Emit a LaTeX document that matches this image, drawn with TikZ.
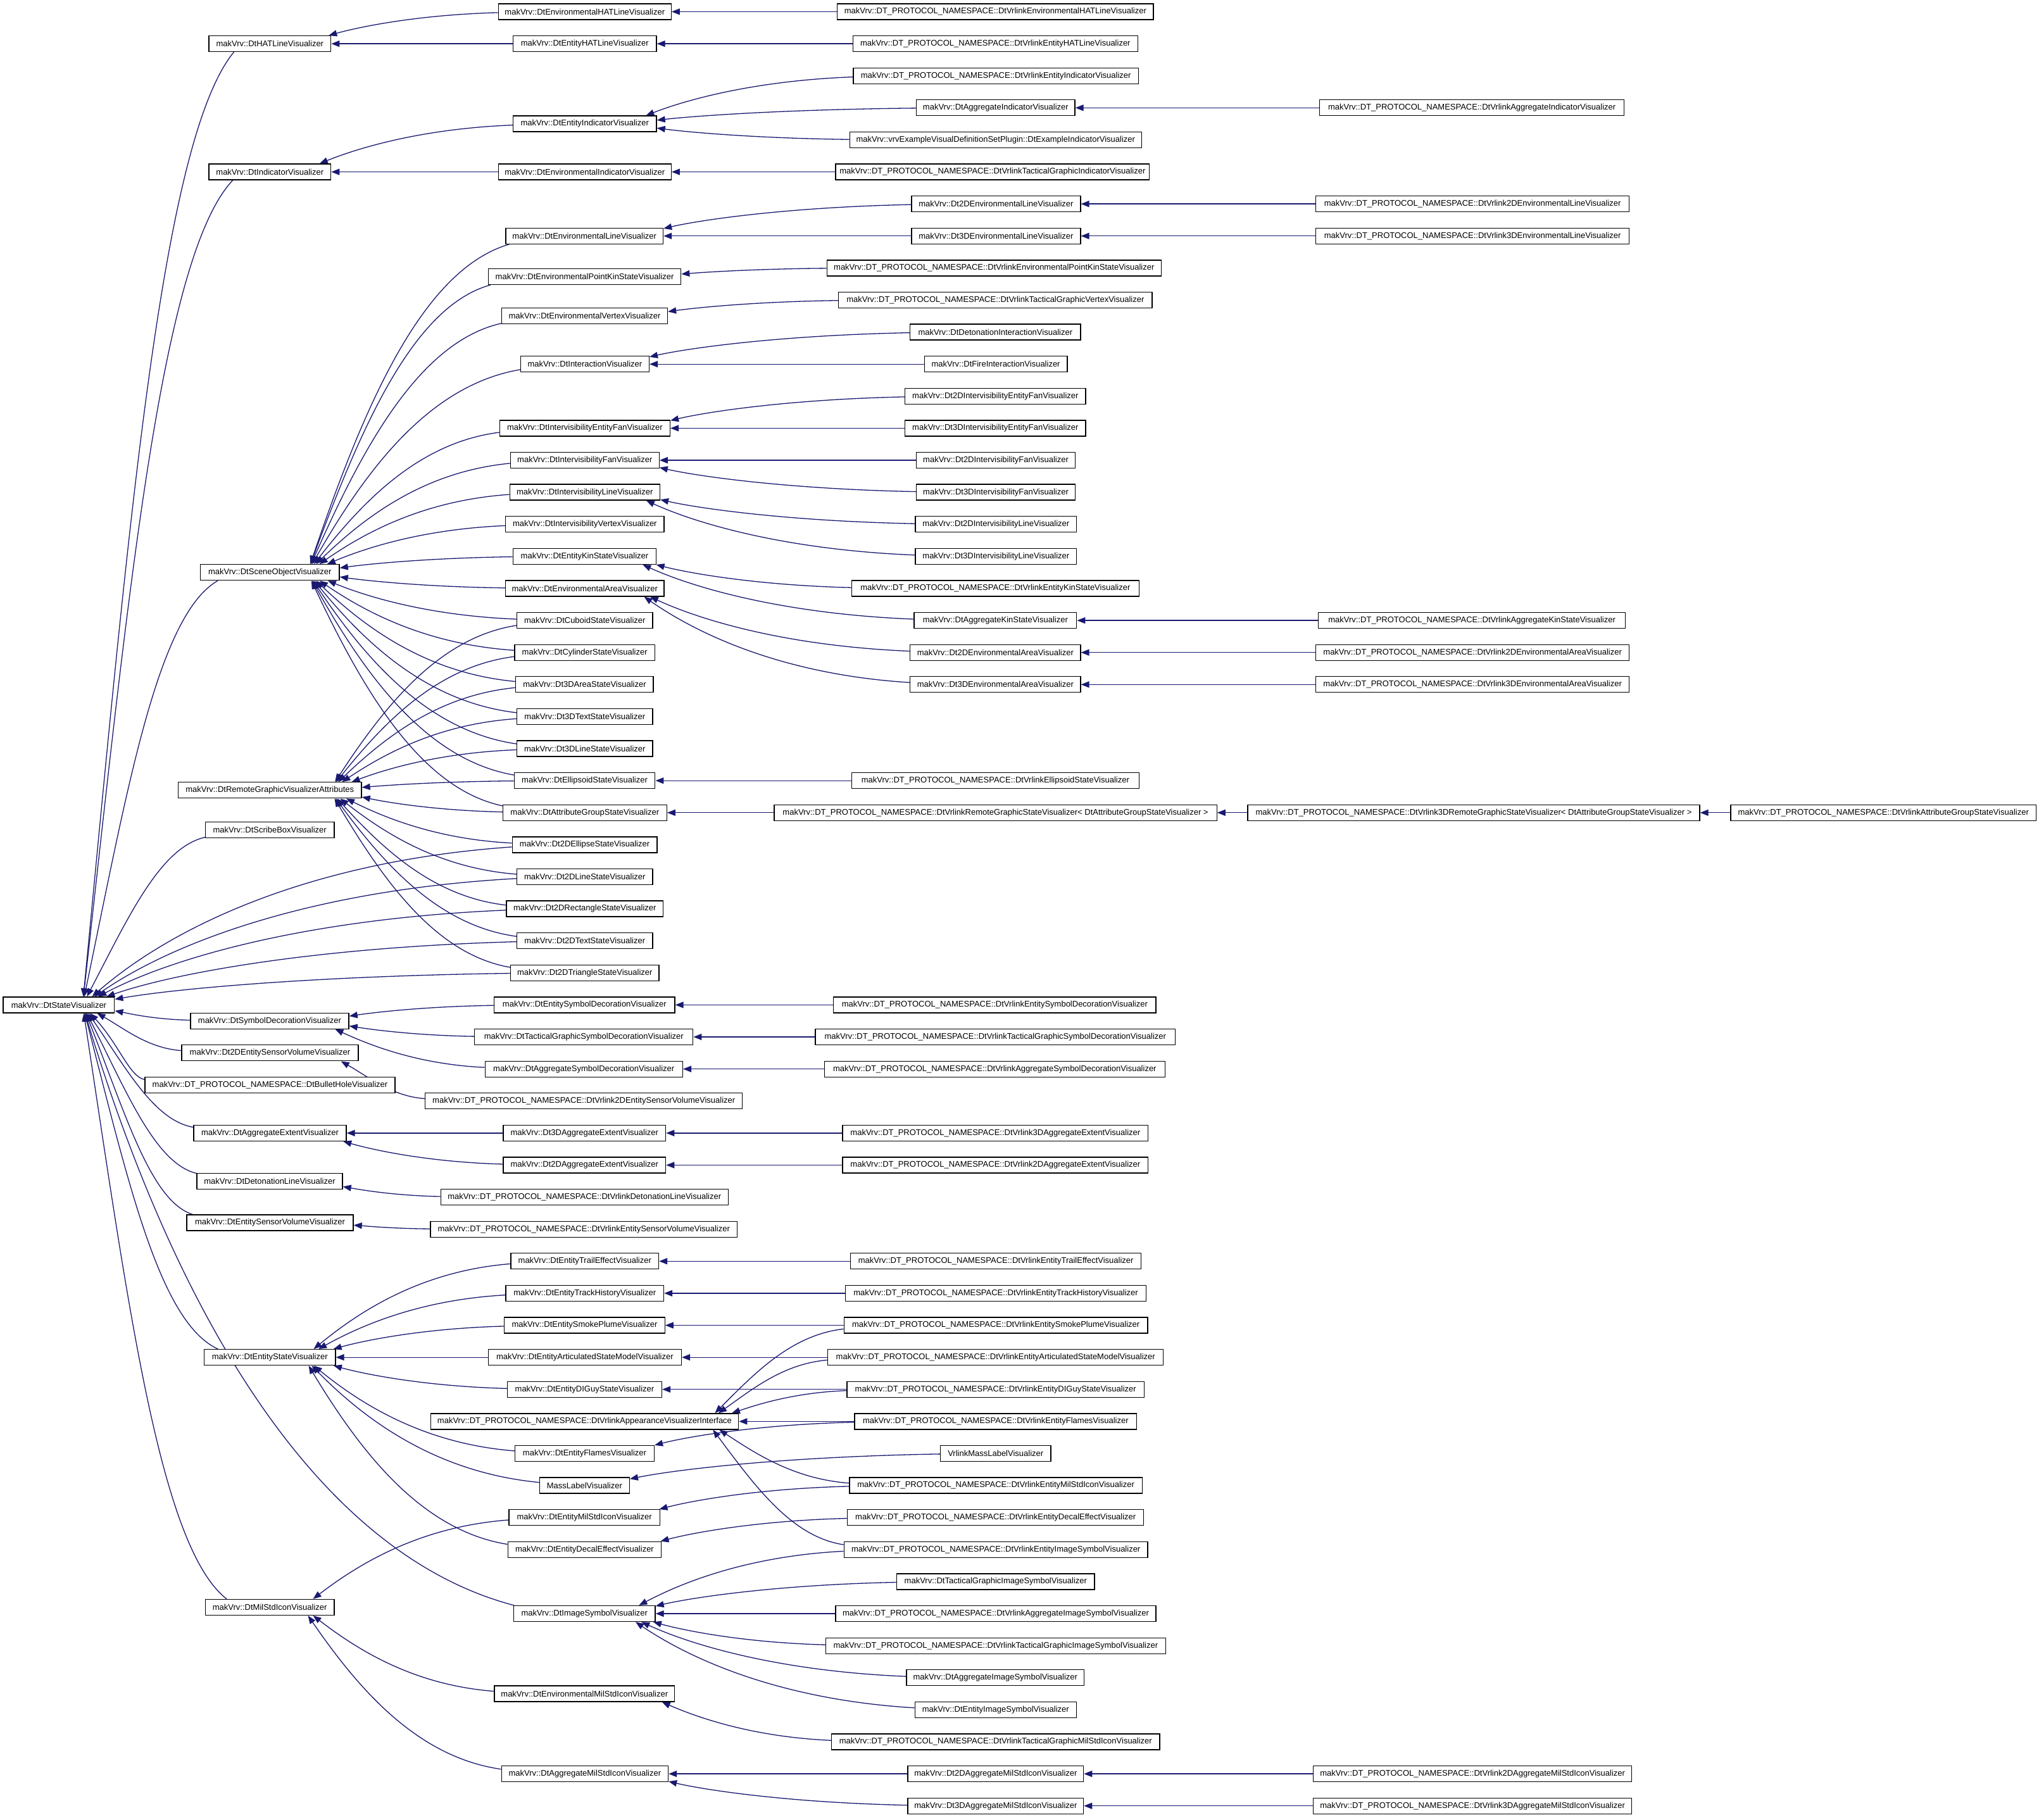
\documentclass[tikz,border=0pt]{standalone}
\usepackage{fontspec}
\setmainfont{Liberation Sans}
\usetikzlibrary{calc,arrows.meta}
\definecolor{edgeblue}{RGB}{25,25,112}
\pgfdeclarelayer{bg}
\pgfsetlayers{bg,main}
\newcommand\mkv{makVrv::}
\newcommand\mkvp{makVrv::DT\_PROTOCOL\_NAMESPACE::}
\newcommand\cls[5]{%
  \pgfmathsetmacro\clsw{(#3-#2)*2.054}%
  \pgfmathsetmacro\clsx{(#2+#3)/2}%
  \pgfmathsetmacro\clsy{9+24.64*#4}%
  \node[clsbox,minimum width=\clsw pt] (#1) at (\clsx,\clsy) {#5};}
\newcommand\inh[2]{%
  \draw[inhedge] let
    \p1=(#2.west), \p2=(#1.east), \p3=(#2.center), \p4=(#1.center),
    \n1={min(\x3-\x1,51pt)}, \n2={min(\x2-\x4,51pt)},
    \p5=({\x1+\n1},\y3), \p6=({\x2-\n2},\y4),
    \p7=({\x1-0.5*(\x1-\x2)},{\y1-0.1*(\y1-\y2)}),
    \p8=({\x2+0.15*(\x1-\x2)},{\y2+0.5*(\y1-\y2)}),
    \n3={min(\n1/max(abs(\x7-\x5),0.01pt),13.1pt/max(abs(\y7-\y5),0.01pt))},
    \n4={min(\n2/max(abs(\x8-\x6),0.01pt),13.1pt/max(abs(\y8-\y6),0.01pt))}
  in ({\x5+\n3*(\x7-\x5)},{\y5+\n3*(\y7-\y5)}) .. controls (\p7) and (\p8) .. ({\x6+\n4*(\x8-\x6)},{\y6+\n4*(\y8-\y6)});}
\tikzset{
  clsbox/.style={draw=black,line width=1.3pt,fill=white,minimum height=25pt,inner sep=0pt,
    font=\fontsize{13pt}{15pt}\selectfont},
  inhedge/.style={draw=edgeblue,line width=1.3pt,-{Triangle[length=13pt,width=10pt]}}
}
\begin{document}
\begin{tikzpicture}[x=2.054pt,y=-2.054pt]
\useasboundingbox (0,0) rectangle (1568.16,1399.7);
% level 0
\cls{root}{2.5}{88}{31}{\mkv DtStateVisualizer}
% level 1
\cls{hat}{160.6}{254.5}{1}{\mkv DtHATLineVisualizer}
\cls{ind}{160.6}{254.5}{5}{\mkv DtIndicatorVisualizer}
\cls{scene}{154}{261}{17.5}{\mkv DtSceneObjectVisualizer}
\cls{remote}{137}{278}{24.3}{\mkv DtRemoteGraphicVisualizerAttributes}
\cls{scribe}{158}{257}{25.54}{\mkv DtScribeBoxVisualizer}
\cls{symdec}{146.5}{268.3}{31.5}{\mkv DtSymbolDecorationVisualizer}
\cls{sens2d}{139.7}{275.6}{32.5}{\mkv Dt2DEntitySensorVolumeVisualizer}
\cls{bullet}{111.5}{303.8}{33.5}{\mkvp DtBulletHoleVisualizer}
\cls{aggext}{149}{266.3}{35}{\mkv DtAggregateExtentVisualizer}
\cls{detline}{151.4}{263.4}{36.5}{\mkv DtDetonationLineVisualizer}
\cls{enssv}{143.6}{271.7}{37.8}{\mkv DtEntitySensorVolumeVisualizer}
\cls{entstate}{157}{258}{42}{\mkv DtEntityStateVisualizer}
\cls{milstd}{158}{257}{49.8}{\mkv DtMilStdIconVisualizer}
% level 2
\cls{envhat}{383.3}{516.2}{0}{\mkv DtEnvironmentalHATLineVisualizer}
\cls{enthat}{394.6}{504.9}{1}{\mkv DtEntityHATLineVisualizer}
\cls{entind}{394.6}{504.9}{3.5}{\mkv DtEntityIndicatorVisualizer}
\cls{envind}{383.3}{516.2}{5}{\mkv DtEnvironmentalIndicatorVisualizer}
\cls{envline}{389}{510}{7}{\mkv DtEnvironmentalLineVisualizer}
\cls{envpks}{375.6}{523.7}{8.27}{\mkv DtEnvironmentalPointKinStateVisualizer}
\cls{envvert}{385.8}{513.4}{9.5}{\mkv DtEnvironmentalVertexVisualizer}
\cls{inter}{400.4}{499.2}{11}{\mkv DtInteractionVisualizer}
\cls{ivef}{384.3}{515.3}{13}{\mkv DtIntervisibilityEntityFanVisualizer}
\cls{ivfan}{392.6}{506.9}{14}{\mkv DtIntervisibilityFanVisualizer}
\cls{ivline}{392}{507.5}{15}{\mkv DtIntervisibilityLineVisualizer}
\cls{ivvert}{388.8}{510.7}{16}{\mkv DtIntervisibilityVertexVisualizer}
\cls{entkin}{394.5}{504.7}{17}{\mkv DtEntityKinStateVisualizer}
\cls{envarea}{388.8}{510.7}{18}{\mkv DtEnvironmentalAreaVisualizer}
\cls{cuboid}{397.5}{502}{19}{\mkv DtCuboidStateVisualizer}
\cls{cylinder}{395.8}{503.6}{20}{\mkv DtCylinderStateVisualizer}
\cls{area3d}{396.7}{502.5}{21}{\mkv Dt3DAreaStateVisualizer}
\cls{text3d}{397.5}{502}{22}{\mkv Dt3DTextStateVisualizer}
\cls{line3d}{397.5}{502}{23}{\mkv Dt3DLineStateVisualizer}
\cls{ellipsoid}{395.5}{503.8}{24}{\mkv DtEllipsoidStateVisualizer}
\cls{attrgrp}{386.8}{512.8}{25}{\mkv DtAttributeGroupStateVisualizer}
\cls{ellipse2d}{394}{505.3}{26}{\mkv Dt2DEllipseStateVisualizer}
\cls{line2d}{397.5}{502}{27}{\mkv Dt2DLineStateVisualizer}
\cls{rect2d}{389.5}{510}{28}{\mkv Dt2DRectangleStateVisualizer}
\cls{text2d}{397.5}{502}{29}{\mkv Dt2DTextStateVisualizer}
\cls{tri2d}{392.7}{506.8}{30}{\mkv Dt2DTriangleStateVisualizer}
\cls{entsymdec}{380}{519}{31}{\mkv DtEntitySymbolDecorationVisualizer}
\cls{tgsymdec}{365}{533}{32}{\mkv DtTacticalGraphicSymbolDecorationVisualizer}
\cls{aggsymdec}{373}{525}{33}{\mkv DtAggregateSymbolDecorationVisualizer}
\cls{vr2dsens}{327}{571}{34}{\mkvp DtVrlink2DEntitySensorVolumeVisualizer}
\cls{ext3d}{387}{512}{35}{\mkv Dt3DAggregateExtentVisualizer}
\cls{ext2d}{387}{512}{36}{\mkv Dt2DAggregateExtentVisualizer}
\cls{vrdetline}{339}{560}{37}{\mkvp DtVrlinkDetonationLineVisualizer}
\cls{vrentsens}{331}{567}{38}{\mkvp DtVrlinkEntitySensorVolumeVisualizer}
\cls{trail}{392.9}{506.6}{39}{\mkv DtEntityTrailEffectVisualizer}
\cls{track}{389}{510.5}{40}{\mkv DtEntityTrackHistoryVisualizer}
\cls{smoke}{387.9}{511.3}{41}{\mkv DtEntitySmokePlumeVisualizer}
\cls{artic}{375.5}{524.1}{42}{\mkv DtEntityArticulatedStateModelVisualizer}
\cls{diguy}{390.2}{509}{43}{\mkv DtEntityDIGuyStateVisualizer}
\cls{appif}{331.2}{568}{44}{\mkvp DtVrlinkAppearanceVisualizerInterface}
\cls{flames}{396}{503.2}{45}{\mkv DtEntityFlamesVisualizer}
\cls{masslabel}{415}{484.1}{46}{MassLabelVisualizer}
\cls{entmilstd}{391.4}{507.4}{47}{\mkv DtEntityMilStdIconVisualizer}
\cls{decal}{390.6}{508.6}{48}{\mkv DtEntityDecalEffectVisualizer}
\cls{imgsym}{395.1}{503.9}{50}{\mkv DtImageSymbolVisualizer}
\cls{envmilstd}{380.2}{518.8}{52.5}{\mkv DtEnvironmentalMilStdIconVisualizer}
\cls{aggmilstd}{385.7}{513.9}{55}{\mkv DtAggregateMilStdIconVisualizer}
% level 3
\cls{vrenvhat}{644}{887}{0}{\mkvp DtVrlinkEnvironmentalHATLineVisualizer}
\cls{vrenthat}{656}{875}{1}{\mkvp DtVrlinkEntityHATLineVisualizer}
\cls{vrentind}{656.3}{875.5}{2}{\mkvp DtVrlinkEntityIndicatorVisualizer}
\cls{agging}{704.8}{826.7}{3}{\mkv DtAggregateIndicatorVisualizer}
\cls{exampleind}{653.5}{877.9}{4}{\mkv vrvExampleVisualDefinitionSetPlugin::DtExampleIndicatorVisualizer}
\cls{vrtgind}{642.6}{884}{5}{\mkvp DtVrlinkTacticalGraphicIndicatorVisualizer}
\cls{env2dline}{701}{831}{6}{\mkv Dt2DEnvironmentalLineVisualizer}
\cls{env3dline}{701}{831}{7}{\mkv Dt3DEnvironmentalLineVisualizer}
\cls{vrenvpks}{636}{893}{8}{\mkvp DtVrlinkEnvironmentalPointKinStateVisualizer}
\cls{vrtgvert}{645}{886}{9}{\mkvp DtVrlinkTacticalGraphicVertexVisualizer}
\cls{detinter}{700}{831}{10}{\mkv DtDetonationInteractionVisualizer}
\cls{fireinter}{710.9}{820.8}{11}{\mkv DtFireInteractionVisualizer}
\cls{ivef2d}{696}{835}{12}{\mkv Dt2DIntervisibilityEntityFanVisualizer}
\cls{ivef3d}{696}{835}{13}{\mkv Dt3DIntervisibilityEntityFanVisualizer}
\cls{ivfan2d}{704.7}{827}{14}{\mkv Dt2DIntervisibilityFanVisualizer}
\cls{ivfan3d}{704.7}{827}{15}{\mkv Dt3DIntervisibilityFanVisualizer}
\cls{ivline2d}{704}{828}{16}{\mkv Dt2DIntervisibilityLineVisualizer}
\cls{ivline3d}{704}{828}{17}{\mkv Dt3DIntervisibilityLineVisualizer}
\cls{vrentkin}{655}{876}{18}{\mkvp DtVrlinkEntityKinStateVisualizer}
\cls{aggkin}{703}{828}{19}{\mkv DtAggregateKinStateVisualizer}
\cls{envarea2d}{700}{831}{20}{\mkv Dt2DEnvironmentalAreaVisualizer}
\cls{envarea3d}{700}{831}{21}{\mkv Dt3DEnvironmentalAreaVisualizer}
\cls{vrellipsoid}{655}{876}{24}{\mkvp DtVrlinkEllipsoidStateVisualizer}
\cls{vrremote}{595.4}{935.8}{25}{\mkvp DtVrlinkRemoteGraphicStateVisualizer< DtAttributeGroupStateVisualizer >}
\cls{vrentsymdec}{641}{889}{31}{\mkvp DtVrlinkEntitySymbolDecorationVisualizer}
\cls{vrtgsymdec}{627}{904}{32}{\mkvp DtVrlinkTacticalGraphicSymbolDecorationVisualizer}
\cls{vraggsymdec}{634}{896}{33}{\mkvp DtVrlinkAggregateSymbolDecorationVisualizer}
\cls{vrext3d}{648}{883}{35}{\mkvp DtVrlink3DAggregateExtentVisualizer}
\cls{vrext2d}{648}{883}{36}{\mkvp DtVrlink2DAggregateExtentVisualizer}
\cls{vrtrail}{654.1}{877.7}{39}{\mkvp DtVrlinkEntityTrailEffectVisualizer}
\cls{vrtrack}{650.2}{881.5}{40}{\mkvp DtVrlinkEntityTrackHistoryVisualizer}
\cls{vrsmoke}{649.1}{882.7}{41}{\mkvp DtVrlinkEntitySmokePlumeVisualizer}
\cls{vrartic}{636.7}{894.7}{42}{\mkvp DtVrlinkEntityArticulatedStateModelVisualizer}
\cls{vrdiguy}{651.4}{880}{43}{\mkvp DtVrlinkEntityDIGuyStateVisualizer}
\cls{vrflames}{657.3}{874.2}{44}{\mkvp DtVrlinkEntityFlamesVisualizer}
\cls{vrmass}{723.2}{808.2}{45}{VrlinkMassLabelVisualizer}
\cls{vrentmilstd}{653.4}{878.4}{46}{\mkvp DtVrlinkEntityMilStdIconVisualizer}
\cls{vrdecal}{651.8}{879.6}{47}{\mkvp DtVrlinkEntityDecalEffectVisualizer}
\cls{vrentimg}{649.1}{882.7}{48}{\mkvp DtVrlinkEntityImageSymbolVisualizer}
\cls{tgimg}{689.7}{841.8}{49}{\mkv DtTacticalGraphicImageSymbolVisualizer}
\cls{vraggimg}{642.6}{889}{50}{\mkvp DtVrlinkAggregateImageSymbolVisualizer}
\cls{vrtgimg}{635.1}{896.4}{51}{\mkvp DtVrlinkTacticalGraphicImageSymbolVisualizer}
\cls{aggimg}{697.2}{833.8}{52}{\mkv DtAggregateImageSymbolVisualizer}
\cls{entimg}{703.6}{827.9}{53}{\mkv DtEntityImageSymbolVisualizer}
\cls{vrtgmilstd}{639.6}{891.9}{54}{\mkvp DtVrlinkTacticalGraphicMilStdIconVisualizer}
\cls{agg2dmilstd}{698.2}{833.3}{55}{\mkv Dt2DAggregateMilStdIconVisualizer}
\cls{agg3dmilstd}{698.2}{833.3}{56}{\mkv Dt3DAggregateMilStdIconVisualizer}
% level 4
\cls{vragging}{1015}{1249}{3}{\mkvp DtVrlinkAggregateIndicatorVisualizer}
\cls{vr2denvline}{1012}{1253}{6}{\mkvp DtVrlink2DEnvironmentalLineVisualizer}
\cls{vr3denvline}{1012}{1253}{7}{\mkvp DtVrlink3DEnvironmentalLineVisualizer}
\cls{vraggkin}{1014}{1250}{19}{\mkvp DtVrlinkAggregateKinStateVisualizer}
\cls{vr2denvarea}{1012}{1253}{20}{\mkvp DtVrlink2DEnvironmentalAreaVisualizer}
\cls{vr3denvarea}{1012}{1253}{21}{\mkvp DtVrlink3DEnvironmentalAreaVisualizer}
\cls{vr3dremote}{959.6}{1307.2}{25}{\mkvp DtVrlink3DRemoteGraphicStateVisualizer< DtAttributeGroupStateVisualizer >}
\cls{vr2daggmilstd}{1010}{1255}{55}{\mkvp DtVrlink2DAggregateMilStdIconVisualizer}
\cls{vr3daggmilstd}{1010}{1255}{56}{\mkvp DtVrlink3DAggregateMilStdIconVisualizer}
% level 5
\cls{vrattrgrp}{1331}{1566}{25}{\mkvp DtVrlinkAttributeGroupStateVisualizer}
% edges
\begin{pgfonlayer}{bg}
\foreach \c in {hat,ind,scene,scribe,ellipse2d,line2d,rect2d,text2d,tri2d,symdec,sens2d,bullet,aggext,detline,enssv,entstate,milstd,imgsym} {\inh{root}{\c}}
\foreach \c in {envhat,enthat} {\inh{hat}{\c}}
\foreach \c in {entind,envind} {\inh{ind}{\c}}
\foreach \c in {envline,envpks,envvert,inter,ivef,ivfan,ivline,ivvert,entkin,envarea,cuboid,cylinder,area3d,text3d,line3d,ellipsoid,attrgrp} {\inh{scene}{\c}}
\foreach \c in {cuboid,cylinder,area3d,text3d,line3d,ellipsoid,attrgrp,ellipse2d,line2d,rect2d,text2d,tri2d} {\inh{remote}{\c}}
\foreach \c in {entsymdec,tgsymdec,aggsymdec} {\inh{symdec}{\c}}
\inh{sens2d}{vr2dsens}
\foreach \c in {ext3d,ext2d} {\inh{aggext}{\c}}
\inh{detline}{vrdetline}
\inh{enssv}{vrentsens}
\foreach \c in {trail,track,smoke,artic,diguy,flames,masslabel,decal} {\inh{entstate}{\c}}
\foreach \c in {entmilstd,envmilstd,aggmilstd} {\inh{milstd}{\c}}
\foreach \c in {vrentimg,tgimg,vraggimg,vrtgimg,aggimg,entimg} {\inh{imgsym}{\c}}
\inh{envhat}{vrenvhat}
\inh{enthat}{vrenthat}
\foreach \c in {vrentind,agging,exampleind} {\inh{entind}{\c}}
\inh{envind}{vrtgind}
\foreach \c in {env2dline,env3dline} {\inh{envline}{\c}}
\inh{envpks}{vrenvpks}
\inh{envvert}{vrtgvert}
\foreach \c in {detinter,fireinter} {\inh{inter}{\c}}
\foreach \c in {ivef2d,ivef3d} {\inh{ivef}{\c}}
\foreach \c in {ivfan2d,ivfan3d} {\inh{ivfan}{\c}}
\foreach \c in {ivline2d,ivline3d} {\inh{ivline}{\c}}
\foreach \c in {vrentkin,aggkin} {\inh{entkin}{\c}}
\foreach \c in {envarea2d,envarea3d} {\inh{envarea}{\c}}
\inh{ellipsoid}{vrellipsoid}
\inh{attrgrp}{vrremote}
\inh{entsymdec}{vrentsymdec}
\inh{tgsymdec}{vrtgsymdec}
\inh{aggsymdec}{vraggsymdec}
\inh{ext3d}{vrext3d}
\inh{ext2d}{vrext2d}
\inh{trail}{vrtrail}
\inh{track}{vrtrack}
\inh{smoke}{vrsmoke}
\inh{artic}{vrartic}
\inh{diguy}{vrdiguy}
\inh{flames}{vrflames}
\inh{masslabel}{vrmass}
\inh{entmilstd}{vrentmilstd}
\inh{decal}{vrdecal}
\foreach \c in {vrsmoke,vrartic,vrdiguy,vrflames,vrentmilstd,vrentimg} {\inh{appif}{\c}}
\inh{envmilstd}{vrtgmilstd}
\foreach \c in {agg2dmilstd,agg3dmilstd} {\inh{aggmilstd}{\c}}
\inh{agging}{vragging}
\inh{env2dline}{vr2denvline}
\inh{env3dline}{vr3denvline}
\inh{aggkin}{vraggkin}
\inh{envarea2d}{vr2denvarea}
\inh{envarea3d}{vr3denvarea}
\inh{vrremote}{vr3dremote}
\inh{vr3dremote}{vrattrgrp}
\inh{agg2dmilstd}{vr2daggmilstd}
\inh{agg3dmilstd}{vr3daggmilstd}
\end{pgfonlayer}
\end{tikzpicture}
\end{document}
